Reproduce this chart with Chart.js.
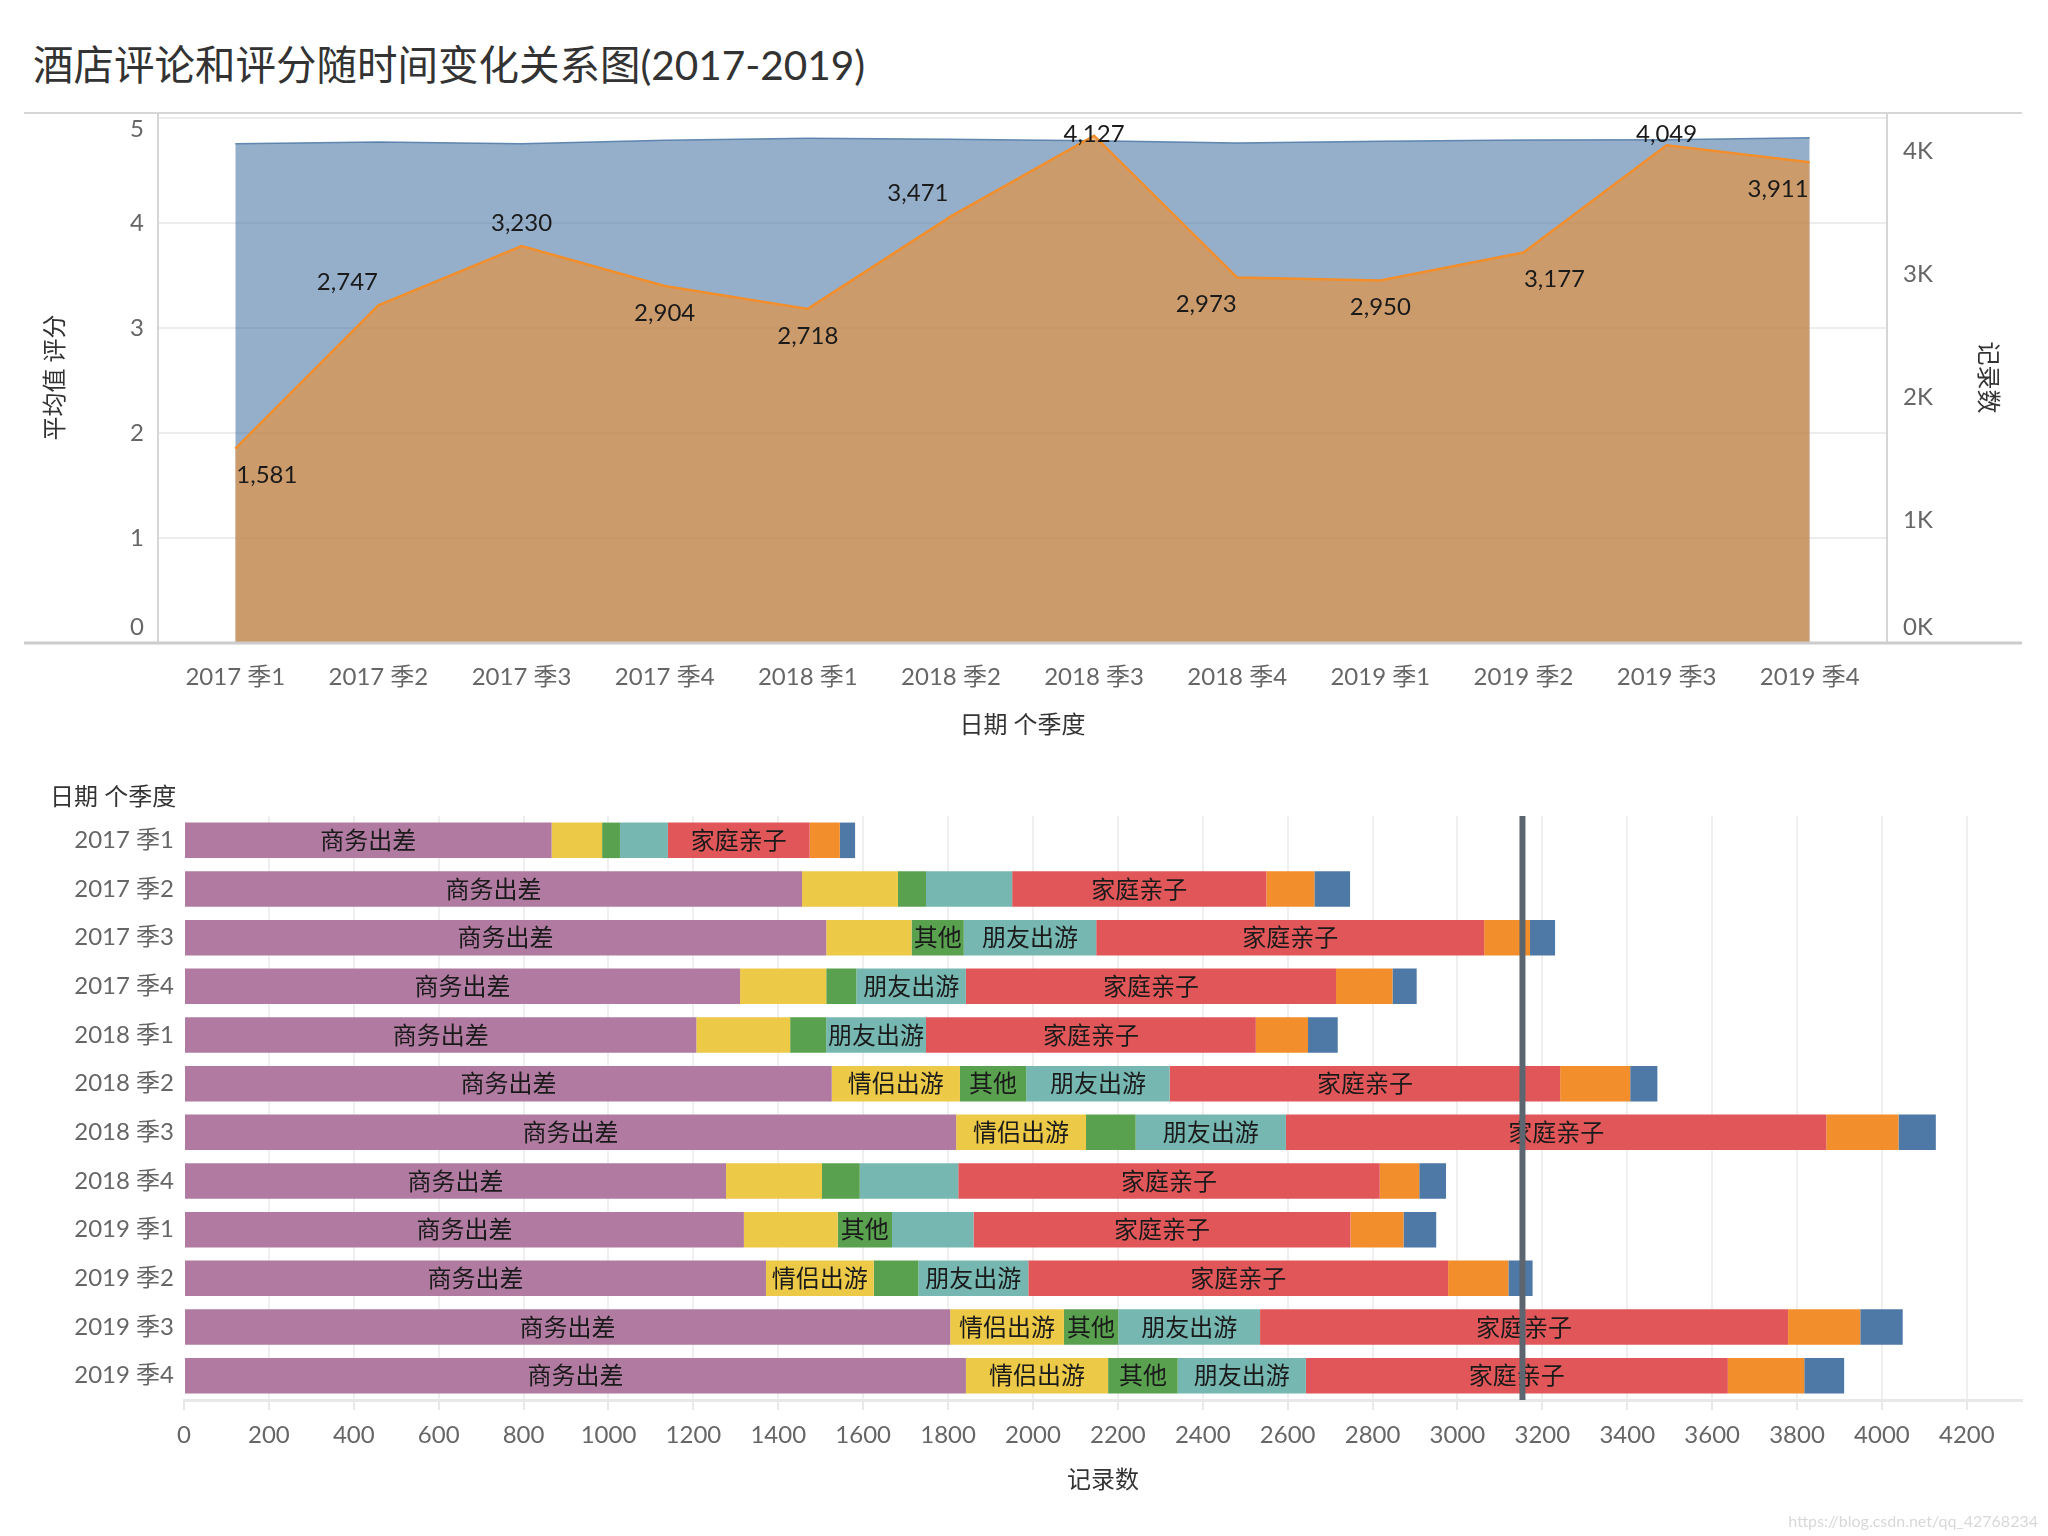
<!DOCTYPE html>
<html>
<head>
<meta charset="utf-8">
<script src="https://cdn.jsdelivr.net/npm/chart.js@4.4.1/dist/chart.umd.min.js"></script>
<style>
body{margin:0;background:#fff;width:2048px;height:1536px;overflow:hidden;position:relative;font-family:Lato,"Noto Sans CJK SC",sans-serif}
#title{position:absolute;left:33px;top:38px;font-size:40.5px;line-height:54px;color:#333;white-space:nowrap}
#topWrap{position:absolute;left:24px;top:112px;width:1998px;height:640px}
#botWrap{position:absolute;left:0;top:760px;width:2048px;height:776px}
#mark{position:absolute;right:10px;bottom:6px;font-size:16px;color:#d8d8d8}
</style>
</head>
<body>
<div id="title">酒店评论和评分随时间变化关系图(2017-2019)</div>
<div id="topWrap"><canvas id="topChart" width="1998" height="640"></canvas></div>
<div id="botWrap"><canvas id="botChart" width="2048" height="776"></canvas></div>
<div id="mark">https://blog.csdn.net/qq_42768234</div>
<script>
//数据
const quarters = ['2017 季1','2017 季2','2017 季3','2017 季4','2018 季1','2018 季2','2018 季3','2018 季4','2019 季1','2019 季2','2019 季3','2019 季4'];
const avgRating = [4.755, 4.771, 4.755, 4.788, 4.807, 4.797, 4.784, 4.762, 4.778, 4.790, 4.793, 4.812];
const recordCount = [1581, 2747, 3230, 2904, 2718, 3471, 4127, 2973, 2950, 3177, 4049, 3911];

const tripTypes = ['商务出差','情侣出游','其他','朋友出游','家庭亲子','独自旅行','代人预订'];
const business = [866, 1456, 1513, 1310, 1207, 1526, 1819, 1277, 1319, 1371, 1805, 1842];
const couple   = [119, 226, 201, 203, 221, 302, 306, 226, 221, 254, 268, 335];
const other    = [42, 66, 123, 71, 85, 156, 117, 89, 128, 105, 128, 164];
const friends  = [113, 203, 312, 258, 235, 338, 354, 232, 192, 259, 334, 302];
const family   = [334, 599, 914, 872, 777, 920, 1273, 993, 888, 989, 1244, 994];
const alone    = [71, 113, 108, 133, 123, 165, 170, 93, 125, 142, 170, 180];
const agent    = [36, 84, 59, 57, 70, 64, 88, 63, 77, 57, 100, 94];

const ratingTicks = [0, 1, 2, 3, 4, 5];
const countTicks = [0, 1000, 2000, 3000, 4000];

/*------------------------------------------------------------------------------------------------*/
//样式
const FONT = 'Lato, "Noto Sans CJK SC", sans-serif';
const typeColors = ['#B07AA1','#EDC948','#59A14F','#76B7B2','#E15759','#F28E2B','#4E79A7'];
const labelPos = ['below','above','above','below','below','above','above','below','below','below','above','below'];
const labelShift = [0, -31, 0, 0, 0, -33, 0, -31, 0, 31, 0, 0];
const avgCount = recordCount.reduce((s, v) => s + v, 0) / recordCount.length;

/*------------------------------------------------------------------------------------------------*/
//上图: 面积
const topDeco = {
    id: 'topDeco',
    afterDraw(chart) {
        const {ctx, chartArea: a, scales} = chart;
        ctx.save();
        ctx.strokeStyle = '#d6d6d6'; ctx.lineWidth = 2;
        ctx.beginPath(); ctx.moveTo(0, 1); ctx.lineTo(chart.width, 1); ctx.stroke();
        ctx.strokeStyle = '#cccccc'; ctx.lineWidth = 3;
        ctx.beginPath(); ctx.moveTo(0, a.bottom); ctx.lineTo(chart.width, a.bottom); ctx.stroke();

        ctx.font = '24px ' + FONT; ctx.fillStyle = '#666'; ctx.textBaseline = 'middle';
        const clampY = y => Math.min(Math.max(y, a.top + 17), a.bottom - 16);
        ctx.textAlign = 'right';
        ratingTicks.forEach(v => ctx.fillText(String(v), a.left - 14, clampY(scales.y.getPixelForValue(v))));
        ctx.textAlign = 'left';
        countTicks.forEach(v => ctx.fillText(v / 1000 + 'K', a.right + 16, clampY(scales.y1.getPixelForValue(v))));

        // 数值标签
        ctx.fillStyle = '#1a1a1a';
        const pts = chart.getDatasetMeta(0).data;
        const last = pts.length - 1;
        pts.forEach((el, i) => {
            let y = labelPos[i] === 'above' ? el.y - 23 : el.y + 27;
            y = Math.max(y, a.top + 22);
            let x = el.x + labelShift[i];
            if (i === 0) { ctx.textAlign = 'left'; x += 1; }
            else if (i === last) { ctx.textAlign = 'right'; x -= 1; }
            else ctx.textAlign = 'center';
            ctx.fillText(recordCount[i].toLocaleString('en-US'), x, y);
        });
        ctx.restore();
    }
};

new Chart(document.getElementById('topChart'), {
    type: 'line',
    data: {
        datasets: [{
            label: '记录数',
            data: recordCount.map((v, i) => ({x: i, y: v})),
            yAxisID: 'y1',
            backgroundColor: 'rgba(242,142,43,0.6)',
            borderColor: '#F28E2B',
            borderWidth: 2.5,
            fill: 'origin',
            pointRadius: 0,
            tension: 0
        }, {
            label: '平均值 评分',
            data: avgRating.map((v, i) => ({x: i, y: v})),
            yAxisID: 'y',
            backgroundColor: 'rgba(78,121,167,0.6)',
            borderColor: 'rgba(78,121,167,0.85)',
            borderWidth: 1.5,
            fill: 'origin',
            pointRadius: 0,
            tension: 0
        }]
    },
    options: {
        responsive: false,
        animation: false,
        devicePixelRatio: 1,
        layout: {padding: 0},
        plugins: {legend: {display: false}, tooltip: {enabled: false}},
        scales: {
            x: {
                type: 'linear', min: -0.54, max: 11.54,
                afterFit: s => { s.height = 109; },
                grid: {display: false},
                border: {display: false},
                ticks: {
                    stepSize: 1, includeBounds: false, padding: 12,
                    font: {family: FONT, size: 24}, color: '#666',
                    callback: v => quarters[v]
                },
                title: {display: true, text: '日期 个季度', font: {family: FONT, size: 24}, color: '#333', padding: {top: 0, bottom: 12.6}}
            },
            y: {
                position: 'left', min: 0, max: 5.057,
                afterFit: s => { s.width = 134; },
                ticks: {display: false, stepSize: 1, includeBounds: false},
                grid: {color: '#ececec', lineWidth: 2, drawTicks: false},
                border: {display: true, color: '#d6d6d6', width: 2},
                title: {display: true, text: '平均值 评分', font: {family: FONT, size: 24}, color: '#333', padding: {top: 16.6, bottom: 0}}
            },
            y1: {
                position: 'right', min: 0, max: 4320,
                afterFit: s => { s.width = 135; },
                ticks: {display: false, stepSize: 1000, includeBounds: false},
                grid: {drawOnChartArea: false, drawTicks: false},
                border: {display: true, color: '#d6d6d6', width: 2},
                title: {display: true, text: '记录数', font: {family: FONT, size: 24}, color: '#333', padding: {top: 19.6, bottom: 0}}
            }
        }
    },
    plugins: [topDeco]
});

/*------------------------------------------------------------------------------------------------*/
//下图: 堆积条形
const seriesByType = [business, couple, other, friends, family, alone, agent];

const botDeco = {
    id: 'botDeco',
    afterDatasetsDraw(chart) {
        const {ctx, chartArea: a, scales: {x}} = chart;
        ctx.save();
        ctx.font = '24px ' + FONT; ctx.fillStyle = '#1a1a1a';
        ctx.textAlign = 'center'; ctx.textBaseline = 'middle';
        chart.data.datasets.forEach((ds, di) => {
            chart.getDatasetMeta(di).data.forEach(bar => {
                const w = Math.abs(bar.x - bar.base);
                if (w >= ctx.measureText(ds.label).width + 3) {
                    ctx.fillText(ds.label, (bar.x + bar.base) / 2, bar.y + 1);
                }
            });
        });
        // 平均线
        const ax = x.getPixelForValue(avgCount);
        ctx.strokeStyle = '#5d6670'; ctx.lineWidth = 6;
        ctx.beginPath(); ctx.moveTo(ax, a.top); ctx.lineTo(ax, a.bottom); ctx.stroke();

        ctx.fillStyle = '#333'; ctx.textAlign = 'left';
        ctx.fillText('日期 个季度', 50, 37);
        ctx.restore();
    }
};

new Chart(document.getElementById('botChart'), {
    type: 'bar',
    data: {
        labels: quarters,
        datasets: tripTypes.map((name, i) => ({
            label: name,
            data: seriesByType[i],
            backgroundColor: typeColors[i],
            borderWidth: 0,
            barPercentage: 0.73,
            categoryPercentage: 1
        }))
    },
    options: {
        indexAxis: 'y',
        responsive: false,
        animation: false,
        devicePixelRatio: 1,
        layout: {padding: {top: 56, right: 26, left: 0, bottom: 0}},
        plugins: {legend: {display: false}, tooltip: {enabled: false}},
        scales: {
            x: {
                stacked: true, min: 0, max: 4330,
                afterFit: s => { s.height = 136; },
                ticks: {
                    stepSize: 200, includeBounds: false, padding: 11,
                    font: {family: FONT, size: 24}, color: '#666',
                    callback: v => String(v)
                },
                grid: {
                    color: c => c.tick && c.tick.value === 0 ? 'rgba(0,0,0,0)' : '#efefef',
                    lineWidth: 2, drawTicks: true, tickLength: 10, tickColor: '#e8e8e8'
                },
                border: {display: true, color: '#e8e8e8', width: 3},
                title: {display: true, text: '记录数', font: {family: FONT, size: 24}, color: '#333', padding: {top: 0, bottom: 41.6}}
            },
            y: {
                stacked: true,
                afterFit: s => { s.width = 184; },
                grid: {display: false, drawTicks: false},
                border: {display: false},
                ticks: {padding: 10, font: {family: FONT, size: 24}, color: '#666'}
            }
        }
    },
    plugins: [botDeco]
});
</script>
</body>
</html>
